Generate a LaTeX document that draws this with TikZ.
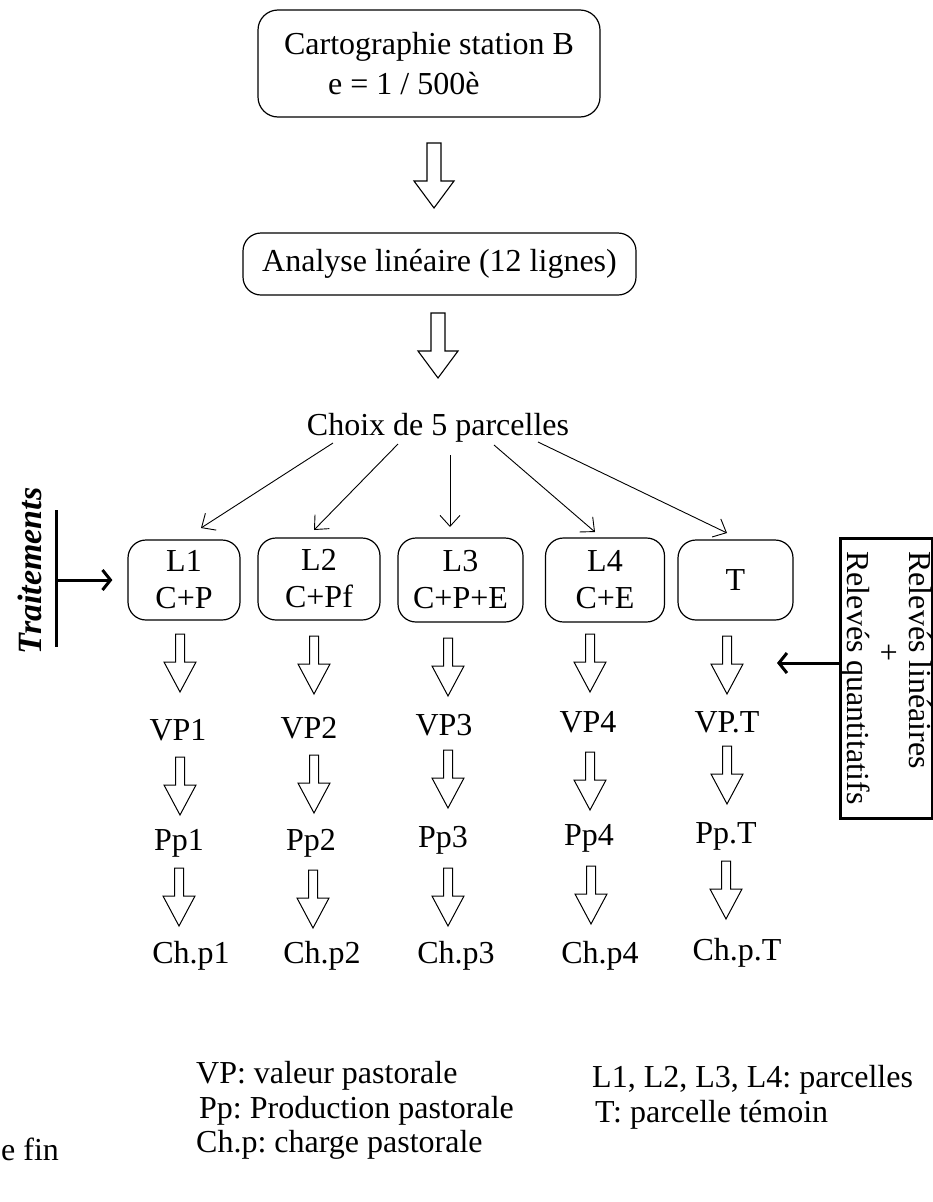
\documentclass[tikz,border=0pt]{standalone}
\usepackage{fontspec}
\setmainfont{Liberation Serif}
\usetikzlibrary{arrows.meta,calc}
\frenchspacing
\begin{document}
\begin{tikzpicture}[x=1pt,y=-1pt,
  every node/.style={font=\fontsize{32}{37}\selectfont, inner sep=0pt},
  rbox/.style={draw, rounded corners=18pt, line width=1.2pt, align=center},
  lbl/.style={anchor=base},
  leg/.style={anchor=base west},
  fan/.style={line width=0.9pt, -{Straight Barb[length=11pt,width=20pt]}},
  heavy/.style={line width=3pt},
  heavyarr/.style={line width=3pt, -{Straight Barb[length=8pt,width=20pt]}},
  bigarrow/.pic={\draw[line width=1.1pt, line join=miter] (-7,0) -- (-7,38) -- (-20,38) -- (0,65) -- (20,38) -- (7,38) -- (7,0) -- cycle;},
  smallarrow/.pic={\draw[line width=1pt, line join=miter] (-4.5,0) -- (-4.5,28) -- (-16,28) -- (0,58) -- (16,28) -- (4.5,28) -- (4.5,0) -- cycle;},
]
\useasboundingbox[fill=white] (0,0) rectangle (933,1202);

% top chain
\node[rbox, align=left, rounded corners=20pt, minimum width=342pt, minimum height=107pt, font=\fontsize{32}{40}\selectfont] (carto) at (429,63.5) {Cartographie station B\\\hspace*{44pt}e = 1 / 500è};
\pic at (434,143) {bigarrow};
\node[rbox, minimum width=393pt, minimum height=62pt] (ana) at (439.5,264) {Analyse linéaire (12 lignes)};
\pic at (438,313) {bigarrow};
\node[lbl] (choix) at (438,435) {Choix de 5 parcelles};

% plots
\node[rbox, minimum width=112pt, minimum height=80pt] (L1) at (184,580) {L1\\C+P};
\node[rbox, minimum width=122pt, minimum height=82pt] (L2) at (319,579) {L2\\C+Pf};
\node[rbox, minimum width=125pt, minimum height=84pt] (L3) at (460.5,580) {L3\\C+P+E};
\node[rbox, minimum width=119pt, minimum height=84pt] (L4) at (605,580) {L4\\C+E};
\node[rbox, minimum width=115pt, minimum height=80pt] (T) at (735.5,580) {T};

% fan arrows
\coordinate (s1) at (333,443); \coordinate (e1) at (201,528);
\coordinate (s2) at (398,444); \coordinate (e2) at (314,530);
\coordinate (s3) at (450,455); \coordinate (e3) at (450,527);
\coordinate (s4) at (494,445); \coordinate (e4) at (595,532);
\coordinate (s5) at (538,442); \coordinate (e5) at (727,533);
\foreach \i in {1,...,5} {\draw[fan] (s\i) -- (e\i);}

% treatments
\node[font=\fontsize{34}{40}\selectfont\bfseries\itshape, rotate=90] (trait) at (30,571) {Traitements};
\coordinate (barTop) at (56,510);
\coordinate (barBot) at (56,647);
\draw[heavy] (barTop) -- (barBot);
\draw[heavyarr] (barTop |- L1.west) -- ([xshift=-15pt]L1.west);

% measurements box
\node[draw, line width=3pt, rotate=-90, minimum width=280pt, minimum height=92pt, align=left, font=\fontsize{32}{31}\selectfont] (rel) at (886,678) {Relevés linéaires\\\hspace*{92pt}+\\Relevés quantitatifs};
\coordinate (relIn) at (777,663);
\draw[heavyarr] (rel.south |- relIn) -- (relIn);

% hollow arrows row A
\pic at (180,634) {smallarrow};
\pic at (314,636) {smallarrow};
\pic at (448,638) {smallarrow};
\pic at (590,634) {smallarrow};
\pic at (727,636) {smallarrow};
% VP row
\node[lbl] (vp1) at (178,740) {VP1};
\node[lbl] (vp2) at (309,738) {VP2};
\node[lbl] (vp3) at (444,735) {VP3};
\node[lbl] (vp4) at (588,732) {VP4};
\node[lbl] (vpt) at (727,732) {VP.T};
% hollow arrows row B
\pic at (180,757) {smallarrow};
\pic at (314,755) {smallarrow};
\pic at (448,750) {smallarrow};
\pic at (590,752) {smallarrow};
\pic at (727,746) {smallarrow};
% Pp row
\node[lbl] (pp1) at (179,850) {Pp1};
\node[lbl] (pp2) at (311,850) {Pp2};
\node[lbl] (pp3) at (443,847) {Pp3};
\node[lbl] (pp4) at (589,845) {Pp4};
\node[lbl] (ppt) at (726,843) {Pp.T};
% hollow arrows row C
\pic at (179,868) {smallarrow};
\pic at (313,870) {smallarrow};
\pic at (448,868) {smallarrow};
\pic at (591,866) {smallarrow};
\pic at (726,861) {smallarrow};
% Ch.p row
\node[lbl] (ch1) at (191,963) {Ch.p1};
\node[lbl] (ch2) at (322,963) {Ch.p2};
\node[lbl] (ch3) at (456,963) {Ch.p3};
\node[lbl] (ch4) at (600,963) {Ch.p4};
\node[lbl] (cht) at (737,960) {Ch.p.T};

% legend
\node[leg] (leg1) at (196,1083) {VP: valeur pastorale};
\node[leg] (leg2) at (199,1118) {Pp: Production pastorale};
\node[leg] (leg3) at (196,1152) {Ch.p: charge pastorale};
\node[leg] (leg4) at (592,1087) {L1, L2, L3, L4: parcelles};
\node[leg] (leg5) at (595,1122) {T: parcelle témoin};
\node[anchor=base west] (efin) at (1,1160) {e fin};
\end{tikzpicture}
\end{document}
